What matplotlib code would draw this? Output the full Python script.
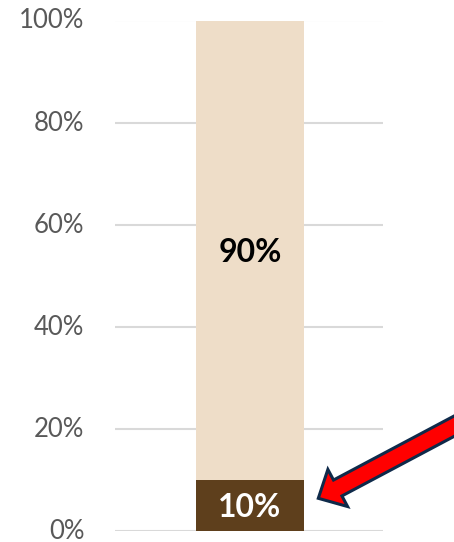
import matplotlib
matplotlib.use("Agg")
import matplotlib.pyplot as plt
import matplotlib.patches as mpatches
import matplotlib.transforms as mtransforms
import numpy as np

plt.rcParams['font.family'] = ['Lato', 'DejaVu Sans']

# Data
categories = ["Share"]
lower_values = [10]   # dark segment (%)
upper_values = [90]   # light segment (%)
y_ticks = [0, 20, 40, 60, 80, 100]
y_tick_labels = ["0%", "20%", "40%", "60%", "80%", "100%"]

dark_color = "#5E3F1C"
light_color = "#EEDDC8"
grid_color = "#D9D9D9"
tick_color = "#595959"

W, H = 454, 542
fig = plt.figure(figsize=(W / 100, H / 100), dpi=100)
ax = fig.add_axes([115 / W, 11 / H, 268 / W, 510.5 / H])

x = np.array([0.5037])
bar_w = 0.403
ax.bar(x, lower_values, width=bar_w, color=dark_color, zorder=2)
ax.bar(x, upper_values, width=bar_w, bottom=lower_values, color=light_color, zorder=2)

for xi, lo, up in zip(x, lower_values, upper_values):
    ax.text(xi, lo / 2, f"{lo}%", ha="center", va="center_baseline", color="white",
            fontsize=23, fontweight="bold", zorder=3)
    ax.text(xi, lo + up / 2, f"{up}%", ha="center", va="center_baseline", color="black",
            fontsize=23, fontweight="bold", zorder=3)

ax.set_xlim(0, 1)
ax.set_ylim(0, 100)
ax.set_yticks(y_ticks)
ax.set_yticklabels(y_tick_labels)
ax.set_xticks([])
ax.tick_params(axis="y", length=0, pad=22, labelsize=18.5, labelcolor=tick_color)
for s in ax.spines.values():
    s.set_visible(False)
ax.yaxis.grid(True, color=grid_color, linewidth=1.5, zorder=0)
ax.set_axisbelow(True)
ax.patch.set_alpha(0)

# nudge the tick labels up a touch so they sit just above their gridlines
shift = mtransforms.ScaledTranslation(0, 2 / 100, fig.dpi_scale_trans)
for lbl in ax.get_yticklabels():
    lbl.set_transform(lbl.get_transform() + shift)

# Callout arrow pointing at the dark segment (pixel coordinates)
tip = np.array([318.3, 498.3])
u = np.array([0.883, -0.469])
tail = tip + 200 * u
arrow = mpatches.FancyArrow(tail[0], H - tail[1], tip[0] - tail[0], -(tip[1] - tail[1]),
                            width=18, head_width=42, head_length=22,
                            length_includes_head=True, transform=None,
                            facecolor="#FF0000", edgecolor="#0F2A4A", linewidth=2.2,
                            zorder=5)
fig.patches.append(arrow)

fig.savefig("out.png", dpi=100)
